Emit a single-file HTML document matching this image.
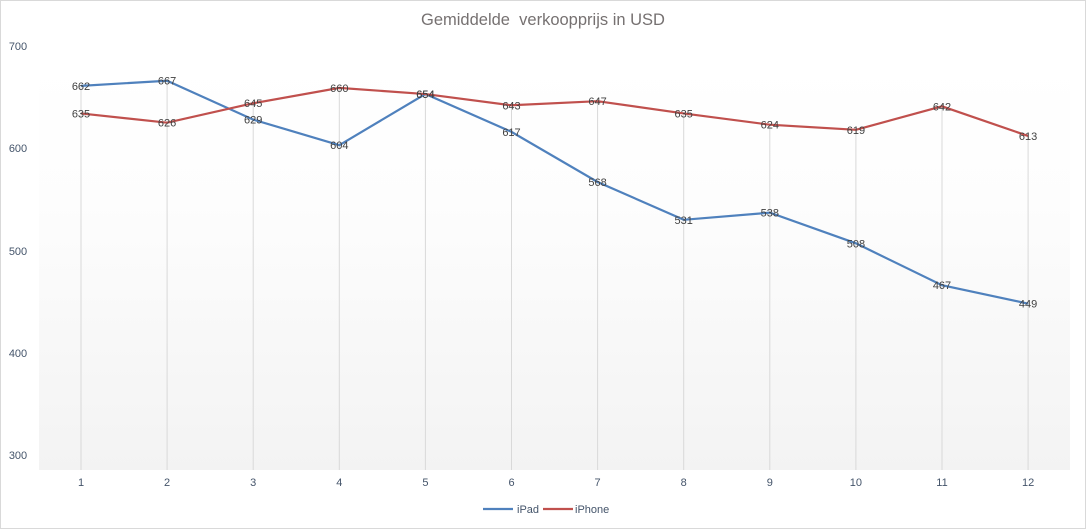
<!DOCTYPE html>
<html><head><meta charset="utf-8"><style>
body{margin:0;background:#fff}
svg{display:block;font-family:"Liberation Sans",Arial,sans-serif}
</style></head><body>
<svg width="1086" height="529" viewBox="0 0 1086 529">
<defs><linearGradient id="g" x1="0" y1="0" x2="0" y2="1">
<stop offset="0" stop-color="#ffffff"/><stop offset="0.35" stop-color="#fdfdfd"/><stop offset="1" stop-color="#f3f3f3"/></linearGradient></defs>
<rect x="0.5" y="0.5" width="1085" height="528" fill="#fff" stroke="#d9d9d9"/>
<rect x="39" y="60" width="1031" height="410" fill="url(#g)"/>
<text x="543" y="25" text-anchor="middle" font-size="16.5" fill="#767171">Gemiddelde&#160; verkoopprijs in USD</text>
<g font-size="11" fill="#44546a" text-anchor="middle">
<text x="18" y="50">700</text><text x="18" y="152">600</text><text x="18" y="255">500</text><text x="18" y="357">400</text><text x="18" y="459">300</text>
</g>
<g id="grid" stroke="#d9d9d9" stroke-width="1"></g>
<g id="xl" font-size="11" fill="#44546a" text-anchor="middle"></g>
<polyline id="pi" fill="none" stroke="#4f81bd" stroke-width="2.2"/>
<polyline id="ph" fill="none" stroke="#c0504d" stroke-width="2.2"/>
<g id="lab" font-size="11" fill="#404040" text-anchor="middle"></g>
<line x1="483" y1="509" x2="513" y2="509" stroke="#4f81bd" stroke-width="2.2"/>
<text x="517" y="513" font-size="11" fill="#44546a">iPad</text>
<line x1="543" y1="509" x2="573" y2="509" stroke="#c0504d" stroke-width="2.2"/>
<text x="575" y="513" font-size="11" fill="#44546a">iPhone</text>
</svg>
<script>
var a=[662,667,629,604,654,617,568,531,538,508,467,449],b=[635,626,645,660,654,643,647,635,624,619,642,613];
function X(i){return 81+i*86.1}function Y(v){return 456-(v-300)*1.0225}
var ns="http://www.w3.org/2000/svg",g=document.getElementById('grid'),xl=document.getElementById('xl'),lab=document.getElementById('lab');
var pa=[],pb=[];
for(var i=0;i<12;i++){var x=X(i);
var l=document.createElementNS(ns,'line');l.setAttribute('x1',x);l.setAttribute('x2',x);l.setAttribute('y1',Math.min(Y(a[i]),Y(b[i])));l.setAttribute('y2',470);g.appendChild(l);
var t=document.createElementNS(ns,'text');t.setAttribute('x',x);t.setAttribute('y',486);t.textContent=i+1;xl.appendChild(t);
pa.push(x+','+Y(a[i]));pb.push(x+','+Y(b[i]));
[a[i],b[i]].forEach(function(v){var t=document.createElementNS(ns,'text');t.setAttribute('x',x);t.setAttribute('y',Y(v)+4);t.textContent=v;lab.appendChild(t);});
}
document.getElementById('pi').setAttribute('points',pa.join(' '));
document.getElementById('ph').setAttribute('points',pb.join(' '));
</script>
</body></html>
